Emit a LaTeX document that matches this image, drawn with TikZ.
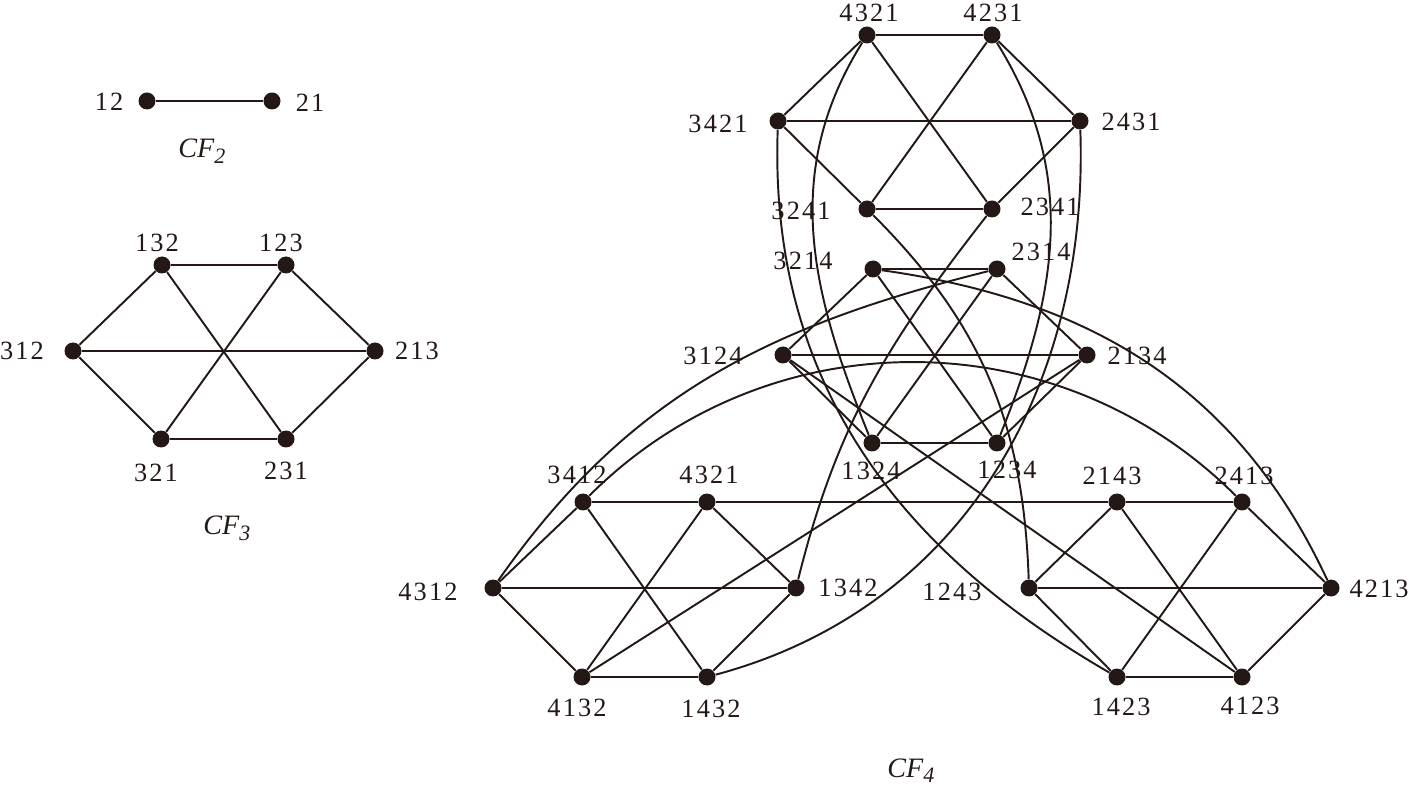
\documentclass[tikz,border=0pt]{standalone}
\usepackage{fontspec}
\setmainfont{Liberation Serif}
\newfontfamily\labfont[LetterSpace=8]{Liberation Serif}
\definecolor{ink}{HTML}{231815}
\newcommand\hexedges[6]{\draw[e] (#1)--(#2) (#1)--(#3) (#2)--(#4) (#3)--(#4) (#5)--(#6) (#3)--(#5) (#4)--(#6) (#1)--(#6) (#2)--(#5);}
\newcommand\cfsub[1]{\raisebox{-3.2pt}{\fontsize{12.5pt}{12.5pt}\selectfont #1}}
\begin{document}
\begin{tikzpicture}[x=0.02cm,y=0.02cm,
  v/.style={circle,fill=ink,draw=none,minimum size=0.34cm,inner sep=0pt},
  lab/.style={inner sep=0pt,text=ink,font=\labfont\fontsize{15pt}{15pt}\selectfont},
  cf/.style={inner sep=0pt,anchor=base west,text=ink,font=\fontsize{16pt}{16pt}\selectfont\itshape},
  e/.style={draw=ink,line width=1.1pt}]
\useasboundingbox (0,0) rectangle (1412,-786);

% ---- CF2 ----
\node[v] (n12) at (147,-101) {};
\node[v] (n21) at (272,-101) {};
\draw[e] (n12) -- (n21);
\node[lab] (t12) at (109,-102) {12};
\node[lab] (t21) at (310,-103) {21};
\node[cf] (cf2) at (178,-158) {CF\cfsub{2}};

% ---- CF3 ----
\node[v] (a132) at (162,-265) {};
\node[v] (a123) at (286,-265) {};
\node[v] (a312) at (73,-351) {};
\node[v] (a213) at (375,-351) {};
\node[v] (a321) at (161,-439) {};
\node[v] (a231) at (286,-439) {};
\hexedges{a132}{a123}{a312}{a213}{a321}{a231}
\node[lab] (t132) at (157,-243) {132};
\node[lab] (t123) at (281,-243) {123};
\node[lab] (t312) at (22,-351) {312};
\node[lab] (t213) at (417,-351) {213};
\node[lab] (t321) at (156,-473) {321};
\node[lab] (t231) at (286,-471) {231};
\node[cf] (cf3) at (203,-535) {CF\cfsub{3}};

% ---- CF4 upper ----
\node[v] (u4321) at (867,-35) {};
\node[v] (u4231) at (992,-35) {};
\node[v] (u3421) at (778,-121) {};
\node[v] (u2431) at (1080,-121) {};
\node[v] (u3241) at (867,-209) {};
\node[v] (u2341) at (992,-209) {};
\hexedges{u4321}{u4231}{u3421}{u2431}{u3241}{u2341}
\node[lab] (tu4321) at (869,-13) {4321};
\node[lab] (tu4231) at (993,-13) {4231};
\node[lab] (tu3421) at (718,-124) {3421};
\node[lab] (tu2431) at (1131,-122) {2431};
\node[lab] (tu3241) at (801,-211) {3241};
\node[lab] (tu2341) at (1050,-207) {2341};

% ---- CF4 middle ----
\node[v] (m3214) at (873,-269) {};
\node[v] (m2314) at (997,-269) {};
\node[v] (m3124) at (783,-355) {};
\node[v] (m2134) at (1087,-355) {};
\node[v] (m1324) at (872,-443) {};
\node[v] (m1234) at (997,-443) {};
\hexedges{m3214}{m2314}{m3124}{m2134}{m1324}{m1234}
\node[lab] (tm3214) at (803,-261) {3214};
\node[lab] (tm2314) at (1041,-252) {2314};
\node[lab] (tm3124) at (713,-356) {3124};
\node[lab] (tm2134) at (1137,-356) {2134};
\node[lab] (tm1324) at (871,-471) {1324};
\node[lab] (tm1234) at (1007,-470) {1234};

% ---- CF4 bottom left ----
\node[v] (b3412) at (583,-502) {};
\node[v] (b3142) at (707,-502) {};
\node[v] (b4312) at (493,-588) {};
\node[v] (b1342) at (796,-588) {};
\node[v] (b4132) at (582,-677) {};
\node[v] (b1432) at (707,-677) {};
\hexedges{b3412}{b3142}{b4312}{b1342}{b4132}{b1432}
\node[lab] (tb3412) at (577,-475) {3412};
\node[lab] (tb3142) at (709,-475) {4321};
\node[lab] (tb4312) at (428,-592) {4312};
\node[lab] (tb1342) at (848,-588) {1342};
\node[lab] (tb4132) at (577,-708) {4132};
\node[lab] (tb1432) at (711,-709) {1432};

% ---- CF4 bottom right ----
\node[v] (r2143) at (1117,-502) {};
\node[v] (r2413) at (1242,-502) {};
\node[v] (r1243) at (1029,-588) {};
\node[v] (r4213) at (1331,-588) {};
\node[v] (r1423) at (1117,-677) {};
\node[v] (r4123) at (1242,-677) {};
\hexedges{r2143}{r2413}{r1243}{r4213}{r1423}{r4123}
\node[lab] (tr2143) at (1112,-476) {2143};
\node[lab] (tr2413) at (1244,-476) {2413};
\node[lab] (tr1243) at (952,-592) {1243};
\node[lab] (tr4213) at (1379,-589) {4213};
\node[lab] (tr1423) at (1121,-707) {1423};
\node[lab] (tr4123) at (1250,-706) {4123};

% ---- CF4 links between copies ----
\draw[e] (u4321) to[out=-122,in=112] (m1324);
\draw[e] (u4231) to[out=-58,in=68] (m1234);
\draw[e] (u3421) to[out=-92,in=150] (r1423);
\draw[e] (u2431) to[out=-88,in=15] (b1432);
\draw[e] (u3241) to[out=-45,in=92] (r1243);
\draw[e] (u2341) to[out=-128,in=76] (b1342);
\draw[e] (m3214) to[out=-8,in=115] (r4213);
\draw[e] (b4312) to[out=55,in=194] (m2314);
\draw[e] (b3412) to[out=45,in=135] (r2413);
\draw[e] (m3124) -- (r4123);
\draw[e] (m2134) -- (b4132);
\draw[e] (b3142) -- (r2143);

\node[cf] (cf4) at (887,-777) {CF\cfsub{4}};
\end{tikzpicture}
\end{document}
